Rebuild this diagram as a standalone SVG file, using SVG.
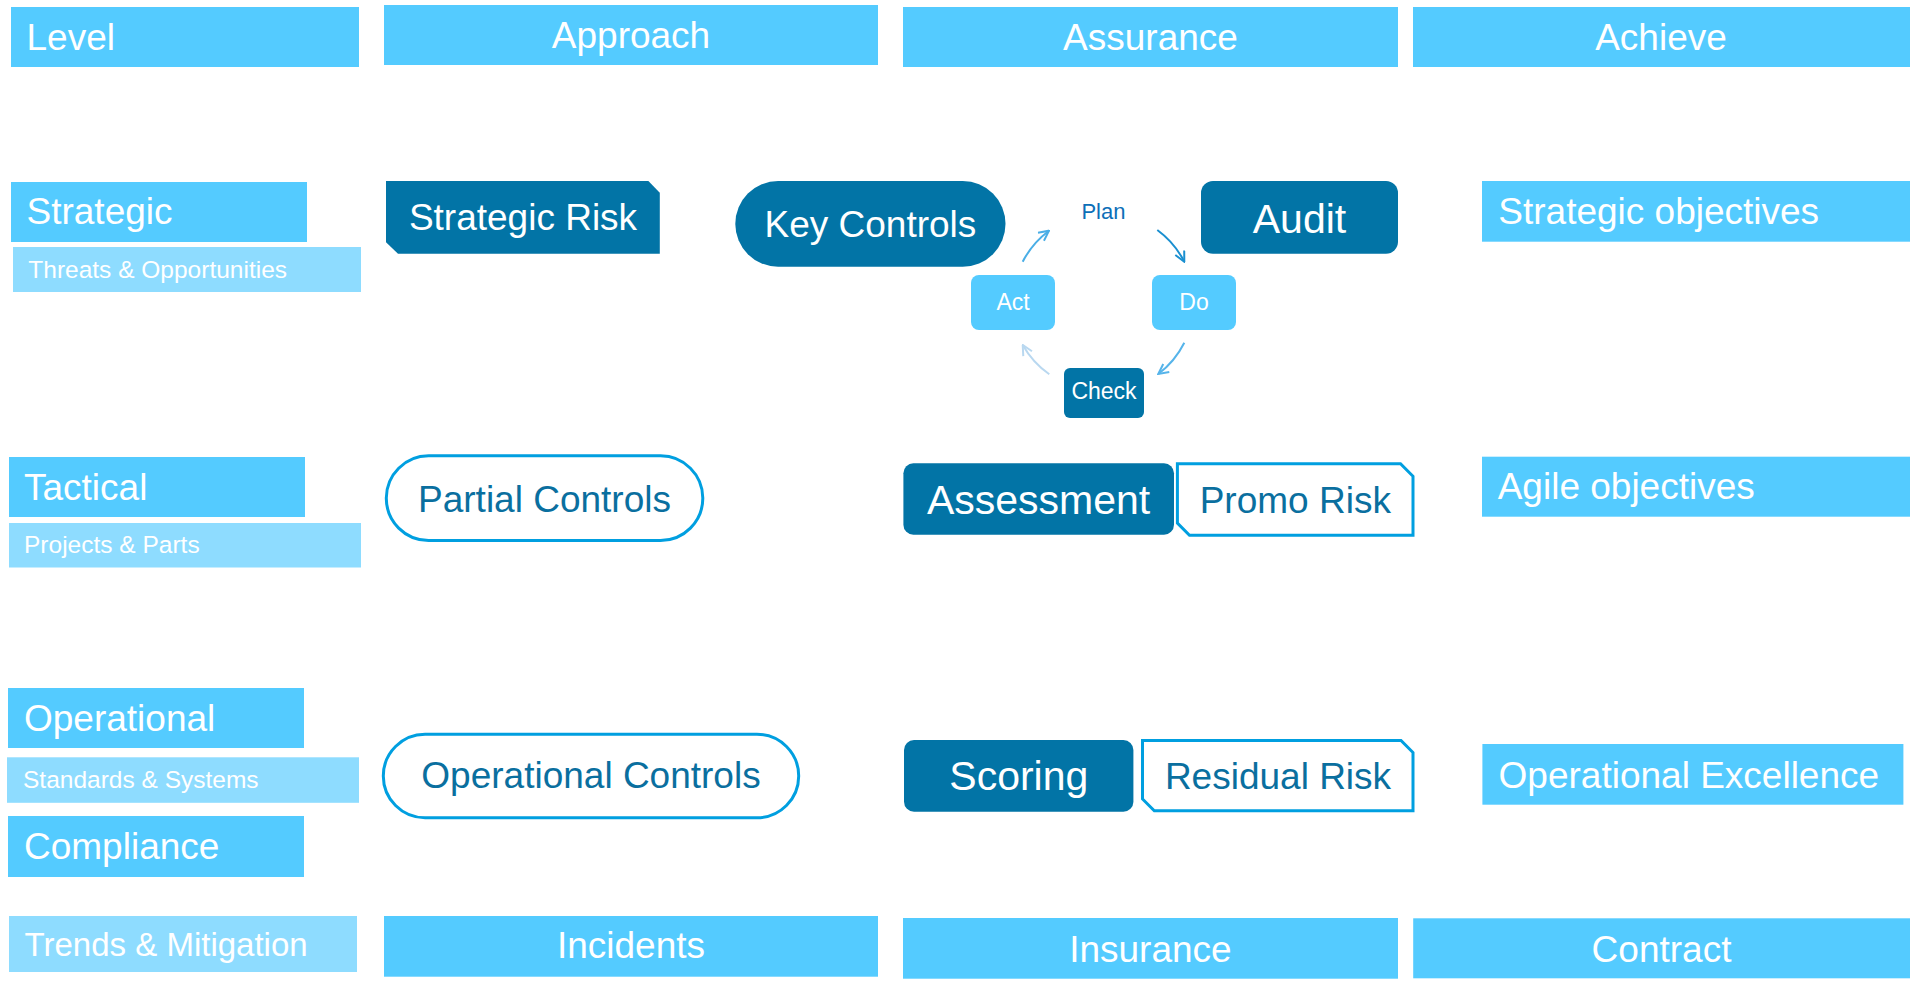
<svg xmlns="http://www.w3.org/2000/svg" width="1910" height="994" viewBox="0 0 1910 994">
  <style>
    text { font-family: "Liberation Sans", Arial, sans-serif; }
    .lb { fill: #54cbff; }
    .xl { fill: #8edcff; }
    .dk { fill: #0274a6; }
    .ol { fill: #ffffff; stroke: #009fe0; stroke-width: 3; }
    .w37 { fill: #ffffff; font-size: 37px; }
    .w24 { fill: #ffffff; font-size: 24.5px; }
    .b37 { fill: #0a6f9f; font-size: 37px; }
    .mid { text-anchor: middle; }
    .small { fill: #ffffff; font-size: 23px; text-anchor: middle; }
    .conn { fill: none; stroke-width: 2; }
  </style>
  <defs>
    <marker id="m1" viewBox="0 0 12 12" refX="11" refY="6" markerWidth="12" markerHeight="12" markerUnits="userSpaceOnUse" orient="auto">
      <path d="M1,1 L11,6 L1,11" fill="none" stroke="#4aaee6" stroke-width="2"/>
    </marker>
    <marker id="m2" viewBox="0 0 12 12" refX="11" refY="6" markerWidth="12" markerHeight="12" markerUnits="userSpaceOnUse" orient="auto">
      <path d="M1,1 L11,6 L1,11" fill="none" stroke="#1a8fd0" stroke-width="2"/>
    </marker>
    <marker id="m3" viewBox="0 0 12 12" refX="11" refY="6" markerWidth="12" markerHeight="12" markerUnits="userSpaceOnUse" orient="auto">
      <path d="M1,1 L11,6 L1,11" fill="none" stroke="#56b4ea" stroke-width="2"/>
    </marker>
    <marker id="m4" viewBox="0 0 12 12" refX="11" refY="6" markerWidth="12" markerHeight="12" markerUnits="userSpaceOnUse" orient="auto">
      <path d="M1,1 L11,6 L1,11" fill="none" stroke="#b9d8f0" stroke-width="2"/>
    </marker>
  </defs>

  <!-- Header row -->
  <g id="h-level"><rect class="lb" x="11" y="7" width="348" height="60"/><text class="w37" x="26.5" y="50">Level</text></g>
  <g id="h-approach"><rect class="lb" x="384" y="5" width="494" height="60"/><text class="w37 mid" x="631" y="48.3">Approach</text></g>
  <g id="h-assurance"><rect class="lb" x="903" y="7" width="495" height="60"/><text class="w37 mid" x="1150.5" y="50">Assurance</text></g>
  <g id="h-achieve"><rect class="lb" x="1413" y="7" width="497" height="60"/><text class="w37 mid" x="1661" y="50">Achieve</text></g>

  <!-- Level column -->
  <g id="strategic"><rect class="lb" x="11" y="182" width="296" height="60"/><text class="w37" x="26.5" y="224">Strategic</text></g>
  <g id="threats"><rect class="xl" x="13" y="247" width="348" height="45"/><text class="w24" x="28.3" y="277.7">Threats &amp; Opportunities</text></g>
  <g id="tactical"><rect class="lb" x="9" y="457" width="296" height="60"/><text class="w37" x="24" y="500">Tactical</text></g>
  <g id="projects"><rect class="xl" x="9" y="523" width="352" height="44.5"/><text class="w24" x="24" y="553.3">Projects &amp; Parts</text></g>
  <g id="operational"><rect class="lb" x="8" y="688" width="296" height="60"/><text class="w37" x="24" y="730.7">Operational</text></g>
  <g id="standards"><rect class="xl" x="7" y="757.3" width="352" height="45.5"/><text class="w24" x="23" y="788.3">Standards &amp; Systems</text></g>
  <g id="compliance"><rect class="lb" x="8" y="816" width="296" height="61"/><text class="w37" x="24" y="858.7">Compliance</text></g>
  <g id="trends"><rect class="xl" x="9" y="916" width="348" height="56"/><text x="24.6" y="955.7" style="fill:#ffffff;font-size:33px">Trends &amp; Mitigation</text></g>

  <!-- Approach column -->
  <g id="strategic-risk"><polygon class="dk" points="386,181 648.4,181 659.8,192.7 659.8,253.7 398,253.7 386,242.3"/><text class="w37 mid" x="523" y="230">Strategic Risk</text></g>
  <g id="key-controls"><rect class="dk" x="735.3" y="181" width="270.2" height="85.7" rx="42.8"/><text class="w37 mid" x="870.4" y="237.3">Key Controls</text></g>
  <g id="partial-controls"><rect class="ol" x="386.3" y="455.8" width="316.5" height="84.7" rx="42.3"/><text class="b37 mid" x="544.5" y="511.7">Partial Controls</text></g>
  <g id="operational-controls"><rect class="ol" x="383.3" y="734.2" width="415.4" height="83.6" rx="41.8"/><text class="b37 mid" x="591" y="788.3">Operational Controls</text></g>

  <!-- PDCA cycle -->
  <g id="plan"><text x="1103.4" y="219" style="fill:#0d6fb8;font-size:22px;text-anchor:middle">Plan</text></g>
  <g id="do"><rect class="lb" x="1152" y="275" width="84" height="55" rx="8"/><text class="small" x="1194" y="310">Do</text></g>
  <g id="check"><rect class="dk" x="1064" y="368" width="80" height="50" rx="6"/><text class="small" x="1104" y="399.3">Check</text></g>
  <g id="act"><rect class="lb" x="971" y="275" width="84" height="55" rx="8"/><text class="small" x="1013" y="310">Act</text></g>

  <!-- Assurance column -->
  <g id="audit"><rect class="dk" x="1201" y="181" width="197" height="72.7" rx="12"/><text class="mid" x="1299.5" y="232.7" style="fill:#ffffff;font-size:41px">Audit</text></g>
  <g id="assessment"><rect class="dk" x="903.4" y="463.3" width="270.6" height="71.4" rx="10"/><text class="mid" x="1038.6" y="514" style="fill:#ffffff;font-size:41px">Assessment</text></g>
  <g id="promo-risk"><path class="ol" d="M1177.4,463.8 L1400.5,463.8 L1413,476.3 L1413,535.2 L1189.5,535.2 L1177.4,523.1 Z"/><text class="b37 mid" x="1295.3" y="512.7">Promo Risk</text></g>
  <g id="scoring"><rect class="dk" x="904" y="740" width="229.4" height="71.7" rx="10"/><text class="mid" x="1018.8" y="790" style="fill:#ffffff;font-size:41px">Scoring</text></g>
  <g id="residual-risk"><path class="ol" d="M1142.5,740.5 L1401,740.5 L1413,752.5 L1413,810.8 L1154.3,810.8 L1142.5,799 Z"/><text class="b37 mid" x="1278" y="789.3">Residual Risk</text></g>

  <!-- Achieve column -->
  <g id="strategic-objectives"><rect class="lb" x="1482" y="181" width="428" height="60.7"/><text class="w37" x="1498.3" y="224">Strategic objectives</text></g>
  <g id="agile-objectives"><rect class="lb" x="1482" y="456.7" width="428" height="60"/><text class="w37" x="1497.7" y="499.3">Agile objectives</text></g>
  <g id="operational-excellence"><rect class="lb" x="1482.4" y="744" width="421" height="60.7"/><text class="w37" x="1498.6" y="787.7">Operational Excellence</text></g>

  <!-- Footer row -->
  <g id="f-incidents"><rect class="lb" x="384" y="916" width="494" height="60.7"/><text class="w37 mid" x="631" y="958.3">Incidents</text></g>
  <g id="f-insurance"><rect class="lb" x="903" y="918" width="495" height="60.7"/><text class="w37 mid" x="1150.4" y="961.7">Insurance</text></g>
  <g id="f-contract"><rect class="lb" x="1413.2" y="918.3" width="496.8" height="60"/><text class="w37 mid" x="1661.5" y="961.7">Contract</text></g>

  <!-- Connectors -->
  <g id="connectors">
    <path class="conn" stroke="#4aaee6" marker-end="url(#m1)" d="M1022.7,261.7 A90,90 0 0 1 1049,230.7"/>
    <path class="conn" stroke="#1a8fd0" marker-end="url(#m2)" d="M1157.3,230 A90,90 0 0 1 1184.3,261.7"/>
    <path class="conn" stroke="#56b4ea" marker-end="url(#m3)" d="M1184.3,342.7 A90,90 0 0 1 1158.3,374"/>
    <path class="conn" stroke="#b9d8f0" marker-end="url(#m4)" d="M1049.3,374.3 A90,90 0 0 1 1022.7,345"/>
  </g>
</svg>
